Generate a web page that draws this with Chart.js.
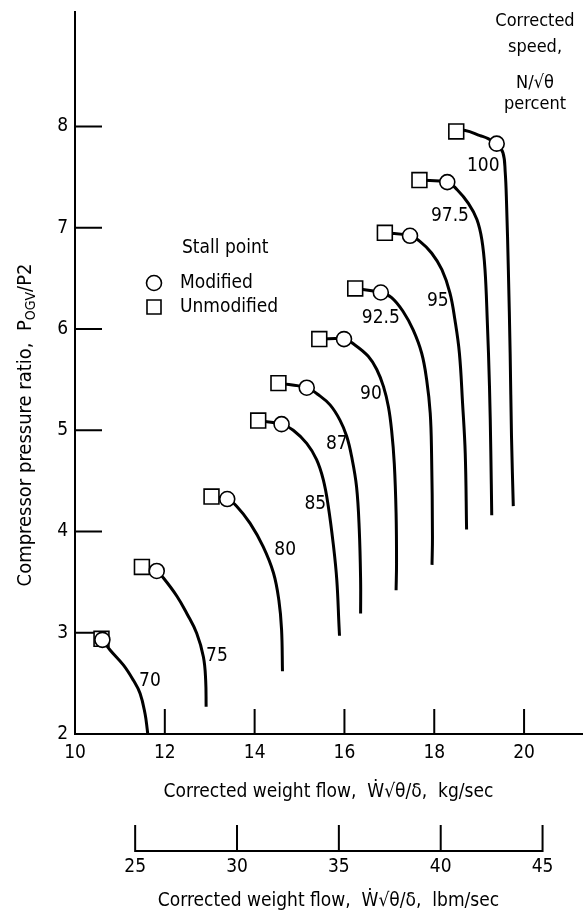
<!DOCTYPE html>
<html><head><meta charset="utf-8">
<script src="https://cdn.jsdelivr.net/npm/chart.js@4/dist/chart.umd.min.js"></script>
<style>html,body{margin:0;padding:0;background:#fff;}#wrap{position:relative;width:583px;height:916px;}canvas{display:block;}</style>
</head><body><div id="wrap"><canvas id="c" width="583" height="916"></canvas></div>
<script>
const FONT = "'Liberation Sans Narrow','DejaVu Sans Condensed','Roboto Condensed','Liberation Sans',sans-serif";

// ---- data ----
const speedLabels = ['70','75','80','85','87','90','92.5','95','97.5','100'];
const unmodifiedX = [10.59, 11.49, 13.04, 14.08, 14.53, 15.44, 16.24, 16.90, 17.67, 18.49];
const unmodifiedY = [2.94, 3.65, 4.345, 5.095, 5.465, 5.90, 6.40, 6.95, 7.47, 7.95];
const modifiedX = [10.61, 11.82, 13.39, 14.60, 15.16, 15.99, 16.81, 17.46, 18.29, 19.39];
const modifiedY = [2.93, 3.61, 4.32, 5.06, 5.42, 5.90, 6.36, 6.92, 7.45, 7.83];

const line70X = [10.59, 10.78, 11.08, 11.30, 11.45, 11.56, 11.61, 11.62];
const line70Y = [2.94, 2.83, 2.68, 2.53, 2.40, 2.20, 2.04, 2.00];
const line75X = [11.49, 11.82, 11.97, 12.27, 12.49, 12.71, 12.86, 12.91, 12.92];
const line75Y = [3.65, 3.61, 3.54, 3.36, 3.19, 2.995, 2.76, 2.53, 2.27];
const line80X = [13.04, 13.39, 13.60, 13.90, 14.19, 14.42, 14.54, 14.60, 14.62];
const line80Y = [4.345, 4.32, 4.25, 4.08, 3.85, 3.59, 3.32, 3.03, 2.62];
const line85X = [14.08, 14.60, 14.86, 15.16, 15.38, 15.53, 15.64, 15.75, 15.83, 15.88, 15.89];
const line85Y = [5.095, 5.06, 5.00, 4.87, 4.71, 4.51, 4.25, 3.88, 3.52, 3.06, 2.97];
const line87X = [14.53, 15.16, 15.42, 15.68, 15.90, 16.05, 16.16, 16.27, 16.33, 16.36, 16.36];
const line87Y = [5.465, 5.42, 5.35, 5.25, 5.10, 4.94, 4.74, 4.44, 4.02, 3.52, 3.19];
const line90X = [15.44, 15.99, 16.24, 16.53, 16.72, 16.87, 16.98, 17.05, 17.11, 17.15, 17.16, 17.15];
const line90Y = [5.90, 5.90, 5.84, 5.73, 5.60, 5.43, 5.23, 5.00, 4.67, 4.18, 3.69, 3.42];
const line925X = [16.24, 16.81, 17.05, 17.31, 17.53, 17.72, 17.83, 17.91, 17.94, 17.96, 17.95];
const line925Y = [6.40, 6.36, 6.31, 6.17, 5.99, 5.76, 5.50, 5.17, 4.77, 3.95, 3.67];
const line95X = [16.90, 17.46, 17.68, 17.94, 18.17, 18.35, 18.46, 18.56, 18.63, 18.69, 18.72];
const line95Y = [6.95, 6.92, 6.865, 6.75, 6.585, 6.355, 6.09, 5.76, 5.27, 4.77, 4.02];
const line975X = [17.67, 18.29, 18.51, 18.76, 18.95, 19.06, 19.13, 19.18, 19.23, 19.26, 19.28];
const line975Y = [7.47, 7.45, 7.375, 7.24, 7.08, 6.88, 6.585, 6.09, 5.43, 4.77, 4.16];
const line100X = [18.49, 18.69, 19.02, 19.20, 19.39, 19.53, 19.58, 19.61, 19.65, 19.69, 19.72, 19.76];
const line100Y = [7.95, 7.96, 7.91, 7.88, 7.83, 7.74, 7.55, 7.24, 6.585, 5.76, 4.94, 4.25];

const labelX = [11.67, 13.16, 14.68, 15.35, 15.83, 16.59, 16.81, 18.08, 18.35, 19.09];
const labelY = [2.52, 2.77, 3.82, 4.27, 4.86, 5.36, 6.11, 6.28, 7.11, 7.61];

const kgTicks = [10, 12, 14, 16, 18, 20];
const lbmTicks = [25, 30, 35, 40, 45];
const yTicks = [2, 3, 4, 5, 6, 7, 8];
const KG_TO_LBM = 2.20462;
const X_MIN = 10, X_MAX = 21.29, Y_MIN = 2, Y_MAX = 9.13;

const lineXs = [line70X, line75X, line80X, line85X, line87X, line90X, line925X, line95X, line975X, line100X];
const lineYs = [line70Y, line75Y, line80Y, line85Y, line87Y, line90Y, line925Y, line95Y, line975Y, line100Y];

const pts = (xs, ys) => xs.map((v, i) => ({x: v, y: ys[i]}));

const datasets = [
  {label: 'Modified', data: pts(modifiedX, modifiedY), pointStyle: 'circle', pointRadius: 7.5,
   pointBackgroundColor: '#fff', pointBorderColor: '#000', pointBorderWidth: 1.6, showLine: false, order: 0},
  {label: 'Unmodified', data: pts(unmodifiedX, unmodifiedY), pointStyle: 'rect', pointRadius: 10.5,
   pointBackgroundColor: '#fff', pointBorderColor: '#000', pointBorderWidth: 1.6, showLine: false, order: 1}
];
speedLabels.forEach((s, i) => {
  datasets.push({label: s + ' percent', data: pts(lineXs[i], lineYs[i]), showLine: true, pointRadius: 0,
    borderColor: '#000', borderWidth: 3, tension: 0.4, fill: false, order: 2});
});

const FS = 19;
const tickFont = {family: FONT, size: FS};
const noPad = s => { s.paddingLeft = 0; s.paddingRight = 0; s.paddingTop = 0; s.paddingBottom = 0; };

const custom = {
  id: 'custom',
  beforeDatasetsDraw(chart) {
    const {ctx, chartArea: {left, bottom}, scales: {x, x2, y}} = chart;
    ctx.save();
    ctx.strokeStyle = '#000';
    ctx.lineWidth = 2;
    ctx.beginPath();
    kgTicks.forEach(v => { if (v === X_MIN) return; const p = x.getPixelForValue(v); ctx.moveTo(p, bottom); ctx.lineTo(p, bottom - 25); });
    yTicks.forEach(v => { if (v === Y_MIN) return; const p = y.getPixelForValue(v); ctx.moveTo(left, p); ctx.lineTo(left + 27, p); });
    // secondary axis
    const ay = x2.top;
    ctx.moveTo(x2.getPixelForValue(lbmTicks[0]), ay);
    ctx.lineTo(x2.getPixelForValue(lbmTicks[lbmTicks.length - 1]), ay);
    lbmTicks.forEach(v => { const p = x2.getPixelForValue(v); ctx.moveTo(p, ay + 1); ctx.lineTo(p, ay - 26); });
    ctx.stroke();
    ctx.restore();
  },
  afterDraw(chart) {
    const {ctx, scales: {x, y}} = chart;
    ctx.save();
    ctx.fillStyle = '#000';
    ctx.strokeStyle = '#000';
    ctx.textBaseline = 'middle';
    // speed labels
    ctx.font = `${FS}px ${FONT}`;
    ctx.textAlign = 'center';
    speedLabels.forEach((s, i) => ctx.fillText(s, x.getPixelForValue(labelX[i]), y.getPixelForValue(labelY[i])));
    // y title with subscript
    ctx.save();
    ctx.translate(26, 425);
    ctx.rotate(-Math.PI / 2);
    const main = 'Compressor pressure ratio,  P';
    const sub = 'OGV';
    const tail = '/P2';
    const big = `20px ${FONT}`, small = `14px ${FONT}`;
    ctx.font = big;
    const w1 = ctx.measureText(main).width, w3 = ctx.measureText(tail).width;
    ctx.font = small;
    const w2 = ctx.measureText(sub).width;
    let sx = -(w1 + w2 + w3) / 2;
    ctx.textAlign = 'left';
    ctx.font = big; ctx.fillText(main, sx, 0); sx += w1;
    ctx.font = small; ctx.fillText(sub, sx, 5); sx += w2;
    ctx.font = big; ctx.fillText(tail, sx, 0);
    ctx.restore();
    // legend
    ctx.font = `${FS}px ${FONT}`;
    ctx.textAlign = 'left';
    ctx.fillText('Stall point', 182, 248);
    ctx.fillText('Modified', 180, 283);
    ctx.fillText('Unmodified', 180, 307);
    ctx.lineWidth = 1.6;
    ctx.fillStyle = '#fff';
    ctx.beginPath(); ctx.arc(154, 283, 7.5, 0, Math.PI * 2); ctx.fill(); ctx.stroke();
    ctx.beginPath(); ctx.rect(147, 300, 14, 14); ctx.fill(); ctx.stroke();
    // corner note
    ctx.fillStyle = '#000';
    ctx.textAlign = 'center';
    ctx.font = `18px ${FONT}`;
    ctx.fillText('Corrected', 535, 21);
    ctx.fillText('speed,', 535, 47);
    ctx.fillText('N/√θ', 535, 83);
    ctx.fillText('percent', 535, 104);
    ctx.restore();
  }
};

new Chart(document.getElementById('c'), {
  type: 'scatter',
  data: {datasets},
  plugins: [custom],
  options: {
    responsive: false, animation: false, devicePixelRatio: 1,
    layout: {autoPadding: false, padding: {top: 12, right: 1, left: 0, bottom: 0}},
    plugins: {legend: {display: false}, tooltip: {enabled: false}},
    scales: {
      x: {type: 'linear', position: 'bottom', min: X_MIN, max: X_MAX,
        afterBuildTicks: s => { s.ticks = kgTicks.map(v => ({value: v})); },
        afterFit: s => { s.height = 117; noPad(s); },
        grid: {display: false, drawTicks: false},
        border: {display: true, color: '#000', width: 2},
        ticks: {font: tickFont, color: '#000', padding: 8, maxRotation: 0, autoSkip: false},
        title: {display: true, text: 'Corrected weight flow,  Ẇ√θ/δ,  kg/sec', color: '#000',
          font: {family: FONT, size: FS}, padding: {top: 0, bottom: 48}}},
      x2: {type: 'linear', position: 'bottom', min: X_MIN * KG_TO_LBM, max: X_MAX * KG_TO_LBM,
        afterBuildTicks: s => { s.ticks = lbmTicks.map(v => ({value: v})); },
        afterFit: s => { s.height = 65; noPad(s); },
        grid: {display: false, drawTicks: false},
        border: {display: false},
        ticks: {font: tickFont, color: '#000', padding: 5, maxRotation: 0, autoSkip: false},
        title: {display: true, text: 'Corrected weight flow,  Ẇ√θ/δ,  lbm/sec', color: '#000',
          font: {family: FONT, size: FS}, padding: {top: 0, bottom: 4}}},
      y: {type: 'linear', position: 'left', min: Y_MIN, max: Y_MAX,
        afterBuildTicks: s => { s.ticks = yTicks.map(v => ({value: v})); },
        afterFit: s => { s.width = 75; noPad(s); },
        grid: {display: false, drawTicks: false},
        border: {display: true, color: '#000', width: 2},
        ticks: {font: tickFont, color: '#000', padding: 7},
        title: {display: false}}
    }
  }
});
</script></body></html>
